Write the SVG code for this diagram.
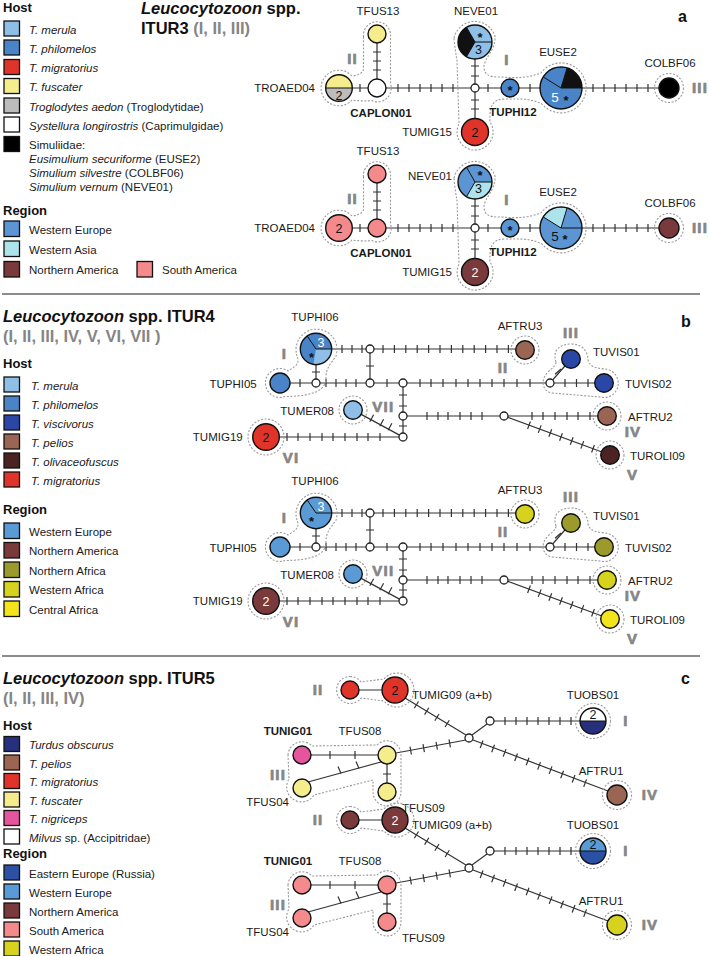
<svg xmlns="http://www.w3.org/2000/svg" width="709" height="956" viewBox="0 0 709 956">
<style>
text{font-family:"Liberation Sans",Arial,Helvetica,sans-serif}
.lg{font-size:11.5px;fill:#1a1a1a}
.hd{font-size:13px;font-weight:bold;fill:#111}
.ti{font-size:16.5px;font-weight:bold;fill:#111}
.gr{fill:#858585}
.nl{font-size:11.5px;fill:#1a1a1a}
.nb{font-size:11.5px;font-weight:bold;fill:#1a1a1a}
.rn{font-size:15px;font-weight:bold;fill:#858585;stroke:#858585;stroke-width:0.7;letter-spacing:1.2px;text-anchor:middle}
.pl{font-size:16px;font-weight:bold;fill:#111}
.it{font-style:italic}
.in{font-size:12.5px;fill:#111;text-anchor:middle}
.iw{font-size:12.5px;fill:#fff;text-anchor:middle}
.st{font-size:13px;font-weight:bold;fill:#111;text-anchor:middle}
.sq{stroke:#111;stroke-width:1.3}
.ln{stroke:#333;stroke-width:1.2;fill:none}
.nd{stroke:#111;stroke-width:1.4}
.jn{fill:#fff;stroke:#222;stroke-width:1.3}
.hl{fill:none;stroke:#9a9a9a;stroke-width:1.1;stroke-dasharray:2 1.6}
.sp{stroke:#111;stroke-width:1;fill:none}
.sep{stroke:#8c8c8c;stroke-width:2}
.mid{text-anchor:middle}
.end{text-anchor:end}
</style>
<rect width="709" height="956" fill="#fff"/>

<!-- ===================== PANEL A ===================== -->
<g id="title-a">
<text x="141" y="14" class="ti"><tspan class="it">Leucocytozoon</tspan> spp.</text>
<text x="141" y="33.5" class="ti">ITUR3 <tspan class="gr">(I, II, III)</tspan></text>
<text x="678" y="22" class="pl">a</text>
</g>
<g id="legend-a">
<text x="3" y="12" class="hd">Host</text>
<rect x="4" y="21" width="15.5" height="15" class="sq" fill="#8fbfe6"/><text x="29" y="33.5" class="lg it">T. merula</text>
<rect x="4" y="40" width="15.5" height="15" class="sq" fill="#4a84c8"/><text x="29" y="52.5" class="lg it">T. philomelos</text>
<rect x="4" y="59.5" width="15.5" height="15" class="sq" fill="#e0342a"/><text x="29" y="72" class="lg it">T. migratorius</text>
<rect x="4" y="78.5" width="15.5" height="15" class="sq" fill="#f5ec8c"/><text x="29" y="91" class="lg it">T. fuscater</text>
<rect x="4" y="98" width="15.5" height="15" class="sq" fill="#bcbcbc"/><text x="29" y="110.5" class="lg"><tspan class="it">Troglodytes aedon</tspan> (Troglodytidae)</text>
<rect x="4" y="117" width="15.5" height="15" class="sq" fill="#fff"/><text x="29" y="129.5" class="lg"><tspan class="it">Systellura longirostris</tspan> (Caprimulgidae)</text>
<rect x="4" y="136.5" width="15.5" height="15" class="sq" fill="#000"/><text x="29" y="149" class="lg">Simuliidae:</text>
<text x="29" y="163" class="lg"><tspan class="it">Eusimulium securiforme</tspan> (EUSE2)</text>
<text x="29" y="177" class="lg"><tspan class="it">Simulium silvestre</tspan> (COLBF06)</text>
<text x="29" y="191" class="lg"><tspan class="it">Simulium vernum</tspan> (NEVE01)</text>
<text x="3" y="214.5" class="hd">Region</text>
<rect x="4" y="221" width="15.5" height="15.5" class="sq" fill="#5b95d3"/><text x="29" y="233.5" class="lg">Western Europe</text>
<rect x="4" y="241" width="15.5" height="15.5" class="sq" fill="#ade3ea"/><text x="29" y="253.5" class="lg">Western Asia</text>
<rect x="4" y="261.5" width="15.5" height="15.5" class="sq" fill="#7a3a3c"/><text x="29" y="274" class="lg">Northern America</text>
<rect x="137" y="261.5" width="15.5" height="15.5" class="sq" fill="#f58a8c"/><text x="162" y="274" class="lg">South America</text>
</g>

<g id="a-conn">
<path class="ln" d="M352 88H368M386 88H471M479 88H501M519 88H540M582 88H659M377 43V79M475 59V84M475 92V118.5"/>
<path class="ln" d="M360 84v8M398 84v8M409 84v8M420 84v8M431 84v8M442 84v8M453 84v8M488 84v8M530 84v8M593 84v8M604 84v8M615 84v8M626 84v8M637 84v8M648 84v8M373 52h8M373 61h8M373 70h8M471 66h8M471 76h8M471 100h8M471 109h8"/>
</g>
<g id="a-hulls">
<path class="hl" d="M363.5 37A13.6 13.6 0 1 1 390.5 37L390.5 84A13.5 13.5 0 0 1 372 100.6Q362 101.5 352 100A17.8 17.8 0 1 1 352 76Q361 75 363.5 70Z"/>
<path class="hl" d="M454 38A21.3 21.3 0 0 1 495 36C496 50 484 58 484 67C484 75 490 77 498 77C510 77 522 80 541 73A25 25 0 1 1 542 104C530 98 520 99 505 99C494 99 489 104 490 122A18 18 0 1 1 459 124L457 60Q455 50 454 38Z"/>
<circle class="hl" cx="669" cy="88" r="14.5"/>
</g>
<g id="a-host">
<g id="a1-TFUS13"><circle class="nd" cx="377" cy="34" r="9" fill="#f5ec8c"/><text x="378" y="15" class="nl mid">TFUS13</text></g>
<g id="a1-CAPLON01"><circle class="nd" cx="377" cy="88" r="9" fill="#fff"/><text x="381" y="117" class="nb mid">CAPLON01</text></g>
<g id="a1-TROAED04"><path d="M325.7 88A13.3 13.3 0 0 1 352.3 88Z" fill="#f5ec8c"/><path d="M325.7 88A13.3 13.3 0 0 0 352.3 88Z" fill="#bcbcbc"/><path class="sp" d="M325.7 88H352.3"/><circle class="nd" cx="339" cy="88" r="13.3" fill="none"/><text x="339" y="99.5" class="in">2</text><text x="315" y="92" class="nl end">TROAED04</text></g>
<g id="a1-NEVE01"><circle cx="475" cy="42" r="17" fill="#8fbfe6"/><path d="M475 42L466.5 27.28A17 17 0 0 0 466.5 56.72Z" fill="#111"/><path class="sp" d="M492 42H475L466.5 27.28M475 42L466.5 56.72"/><circle class="nd" cx="475" cy="42" r="17" fill="none"/><text x="480" y="41.5" class="st">*</text><text x="478.5" y="54" class="in" fill="#234">3</text><text x="476" y="15" class="nl mid">NEVE01</text></g>
<g id="a1-junction"><circle class="jn" cx="475" cy="88" r="4"/></g>
<g id="a1-TUMIG15"><circle class="nd" cx="475" cy="132" r="13.5" fill="#e0342a"/><text x="475" y="136.5" class="in">2</text><text x="452" y="136" class="nl end">TUMIG15</text></g>
<g id="a1-TUPHI12"><circle class="nd" cx="510" cy="88" r="9" fill="#4a84c8"/><text x="510" y="95" class="st">*</text><text x="513" y="116" class="nb mid">TUPHI12</text></g>
<g id="a1-EUSE2"><circle cx="561" cy="88" r="21" fill="#4a84c8"/><path d="M561 88L582 88A21 21 0 0 0 567.1 67.9Z" fill="#111"/><path class="sp" d="M582 88H561L543.2 76.9M561 88L567.1 67.9"/><circle class="nd" cx="561" cy="88" r="21" fill="none"/><text x="555" y="102" class="iw" style="font-size:13.5px">5</text><text x="566" y="104.5" class="st">*</text><text x="558" y="56" class="nl mid">EUSE2</text></g>
<g id="a1-COLBF06"><circle class="nd" cx="669" cy="88" r="10" fill="#000"/><text x="670" y="67" class="nl mid">COLBF06</text></g>
<text x="352.5" y="63.5" class="rn">II</text>
<text x="507" y="65" class="rn">I</text>
<text x="700" y="93" class="rn">III</text>
</g>

<g id="a-region" transform="translate(0,140)">
<use href="#a-conn"/>
<use href="#a-hulls"/>
<g id="a2-TFUS13"><circle class="nd" cx="377" cy="34" r="9" fill="#f58a8c"/><text x="378" y="15" class="nl mid">TFUS13</text></g>
<g id="a2-CAPLON01"><circle class="nd" cx="377" cy="88" r="9" fill="#f58a8c"/><text x="381" y="117" class="nb mid">CAPLON01</text></g>
<g id="a2-TROAED04"><circle class="nd" cx="339" cy="88" r="13.3" fill="#f58a8c"/><text x="339" y="92.5" class="in">2</text><text x="315" y="92" class="nl end">TROAED04</text></g>
<g id="a2-NEVE01"><circle cx="475" cy="42" r="17" fill="#5b95d3"/><path d="M475 42L466.5 56.72A17 17 0 0 0 492 42Z" fill="#ade3ea"/><path class="sp" d="M492 42H475L466.5 27.28M475 42L466.5 56.72"/><circle class="nd" cx="475" cy="42" r="17" fill="none"/><text x="480" y="40" class="st">*</text><text x="478.5" y="52.5" class="in">3</text><text x="452" y="39.5" class="nl end">NEVE01</text></g>
<g id="a2-junction"><circle class="jn" cx="475" cy="88" r="4"/></g>
<g id="a2-TUMIG15"><circle class="nd" cx="475" cy="132" r="13.5" fill="#7a3a3c"/><text x="475" y="136.5" class="iw">2</text><text x="452" y="136" class="nl end">TUMIG15</text></g>
<g id="a2-TUPHI12"><circle class="nd" cx="510" cy="88" r="9" fill="#5b95d3"/><text x="510" y="95" class="st">*</text><text x="513" y="116" class="nb mid">TUPHI12</text></g>
<g id="a2-EUSE2"><circle cx="561" cy="88" r="21" fill="#5b95d3"/><path d="M561 88L567.1 67.9A21 21 0 0 0 543.2 76.9Z" fill="#ade3ea"/><path class="sp" d="M582 88H561L543.2 76.9M561 88L567.1 67.9"/><circle class="nd" cx="561" cy="88" r="21" fill="none"/><text x="555" y="101" class="in" style="font-size:13.5px">5</text><text x="565" y="103.5" class="st">*</text><text x="558" y="56" class="nl mid">EUSE2</text></g>
<g id="a2-COLBF06"><circle class="nd" cx="669" cy="88" r="10" fill="#7a3a3c"/><text x="670" y="67" class="nl mid">COLBF06</text></g>
<text x="352.5" y="63.5" class="rn">II</text>
<text x="507" y="65" class="rn">I</text>
<text x="700" y="93" class="rn">III</text>
</g>

<line class="sep" x1="2" y1="294" x2="700" y2="294"/>

<!-- ===================== PANEL B ===================== -->
<g id="title-b">
<text x="3" y="321.7" class="ti"><tspan class="it">Leucocytozoon</tspan> spp. ITUR4</text>
<text x="3" y="342" class="ti gr">(I, II, III, IV, V, VI, VII )</text>
<text x="681" y="327" class="pl">b</text>
</g>
<g id="legend-b">
<text x="3" y="368" class="hd">Host</text>
<rect x="4" y="377" width="15.5" height="15" class="sq" fill="#8fbfe6"/><text x="31" y="389.5" class="lg it">T. merula</text>
<rect x="4" y="396" width="15.5" height="15" class="sq" fill="#4a84c8"/><text x="31" y="408.5" class="lg it">T. philomelos</text>
<rect x="4" y="415" width="15.5" height="15" class="sq" fill="#2b47a6"/><text x="31" y="427.5" class="lg it">T. viscivorus</text>
<rect x="4" y="434" width="15.5" height="15" class="sq" fill="#9a6552"/><text x="31" y="446.5" class="lg it">T. pelios</text>
<rect x="4" y="453" width="15.5" height="15" class="sq" fill="#4b2323"/><text x="31" y="465.5" class="lg it">T. olivaceofuscus</text>
<rect x="4" y="472" width="15.5" height="15" class="sq" fill="#e0342a"/><text x="31" y="484.5" class="lg it">T. migratorius</text>
<text x="3" y="514" class="hd">Region</text>
<rect x="4" y="523" width="15.5" height="15.5" class="sq" fill="#5b9bd5"/><text x="29" y="535.5" class="lg">Western Europe</text>
<rect x="4" y="542.5" width="15.5" height="15.5" class="sq" fill="#7a3a3c"/><text x="29" y="555" class="lg">Northern America</text>
<rect x="4" y="562" width="15.5" height="15.5" class="sq" fill="#9c9a2a"/><text x="29" y="574.5" class="lg">Northern Africa</text>
<rect x="4" y="581.5" width="15.5" height="15.5" class="sq" fill="#d6d21e"/><text x="29" y="594" class="lg">Western Africa</text>
<rect x="4" y="601" width="15.5" height="15.5" class="sq" fill="#f3e41c"/><text x="29" y="613.5" class="lg">Central Africa</text>
</g>

<g id="b-conn">
<path class="ln" d="M331.7 349H366M374 349H515.7M370 353V379M316 364.7V379M290 383H312M320 383H366M374 383H399M407 383H546M554 383H594.7M552.6 380L564.9 366M403 387V412M403 420V433M407 416H500M508 416H597.4M507.8 417.4L601.3 451.8M361.2 414.4L399.5 435.1M279.3 437H399"/>
<path class="ln" d="M342 345v8M352 345v8M362 345v8M383 345v8M394.4 345v8M405.8 345v8M417.2 345v8M428.6 345v8M440 345v8M451.4 345v8M462.8 345v8M474.2 345v8M485.6 345v8M497 345v8M508.4 345v8M300 379v8M326 379v8M336 379v8M346 379v8M356 379v8M387 379v8M420 379v8M431 379v8M443 379v8M456 379v8M468 379v8M480 379v8M492 379v8M504 379v8M517 379v8M530 379v8M565 379v8M576.5 379v8M588 379v8M427 412v8M438 412v8M448 412v8M460 412v8M471 412v8M482 412v8M532 412v8M543 412v8M555 412v8M567 412v8M578 412v8M590 412v8M287 433v8M298 433v8M310 433v8M322 433v8M333 433v8M345 433v8M357 433v8M368 433v8M380 433v8M366 366h8M312 372h8M399 395h8M399 406h8M399 426h8M561 369l-6 5.3M530.4 421.5l-2.8 7.5M541.1 425.4l-2.8 7.5M551.7 429.3l-2.8 7.5M562.4 433.3l-2.8 7.5M573.1 437.2l-2.8 7.5M583.7 441.1l-2.8 7.5M594.4 445l-2.8 7.5M373.6 414.8l-3.8 7M383.6 419.2l-3.8 7M391.9 423.2l-3.8 7"/>
</g>
<g id="b-hulls">
<path class="hl" d="M297 356A20.5 20.5 0 1 1 336 356C330 365 326 368 326 378C326 392 310 396 285 396.6A14.5 14.5 0 1 1 288 371C296 366 300 364 297 356Z"/>
<path class="hl" d="M556 362C552 350 560 344 571 344C583 344 588 352 588 360C590 368 598 368 605 369A14.3 14.3 0 1 1 600 397L552 393C542 391 540 380 548 372C552 368 556 366 556 362Z"/>
<circle class="hl" cx="525" cy="350" r="14"/>
<circle class="hl" cx="353" cy="410" r="14"/>
<circle class="hl" cx="607" cy="416" r="14"/>
<circle class="hl" cx="610" cy="455" r="14"/>
<circle class="hl" cx="266" cy="437" r="18"/>
</g>
<g id="b-host">
<g id="b1-TUPHI06"><circle cx="316" cy="349" r="15.7" fill="#4a84c8"/><path d="M316 349L313.3 364.5A15.7 15.7 0 0 0 331.7 349Z" fill="#8fbfe6"/><path class="sp" d="M331.7 349H316L307.2 336"/><circle class="nd" cx="316" cy="349" r="15.7" fill="none"/><text x="321" y="346.5" class="iw">3</text><text x="311.5" y="362" class="st">*</text><text x="315" y="321" class="nl mid">TUPHI06</text></g>
<g id="b1-TUPHI05"><circle class="nd" cx="280" cy="383" r="10" fill="#4a84c8"/><text x="256.7" y="387.5" class="nl end">TUPHI05</text></g>
<g id="b1-junctions"><circle class="jn" cx="370" cy="349" r="4"/><circle class="jn" cx="316" cy="383" r="4"/><circle class="jn" cx="370" cy="383" r="4"/><circle class="jn" cx="403" cy="383" r="4"/><circle class="jn" cx="550" cy="383" r="4"/><circle class="jn" cx="403" cy="416" r="4"/><circle class="jn" cx="504" cy="416" r="4"/><circle class="jn" cx="403" cy="437" r="4"/></g>
<g id="b1-AFTRU3"><circle class="nd" cx="525" cy="350" r="9.3" fill="#9a6552"/><text x="520" y="330" class="nl mid">AFTRU3</text></g>
<g id="b1-TUVIS01"><circle class="nd" cx="571" cy="359" r="9.3" fill="#2b47a6"/><text x="593" y="356" class="nl">TUVIS01</text></g>
<g id="b1-TUVIS02"><circle class="nd" cx="604" cy="383" r="9.3" fill="#2b47a6"/><text x="625" y="387.5" class="nl">TUVIS02</text></g>
<g id="b1-AFTRU2"><circle class="nd" cx="607" cy="416" r="9.3" fill="#9a6552"/><text x="628" y="420.5" class="nl">AFTRU2</text></g>
<g id="b1-TUROLI09"><circle class="nd" cx="610" cy="455" r="9.3" fill="#4b2323"/><text x="630" y="460" class="nl">TUROLI09</text></g>
<g id="b1-TUMER08"><circle class="nd" cx="353" cy="410" r="9.3" fill="#8fbfe6"/><text x="334" y="414.5" class="nl end">TUMER08</text></g>
<g id="b1-TUMIG19"><circle class="nd" cx="266" cy="437" r="13.3" fill="#e0342a"/><text x="266" y="441.5" class="in">2</text><text x="242.7" y="441" class="nl end">TUMIG19</text></g>
<text x="284.5" y="358.5" class="rn">I</text>
<text x="503" y="373.3" class="rn">II</text>
<text x="571" y="338.3" class="rn">III</text>
<text x="633" y="436.7" class="rn">IV</text>
<text x="632.5" y="480" class="rn">V</text>
<text x="291" y="463.3" class="rn">VI</text>
<text x="383.3" y="411.7" class="rn">VII</text>
</g>

<g id="b-region" transform="translate(0,164)">
<use href="#b-conn"/>
<use href="#b-hulls"/>
<g id="b2-TUPHI06"><circle cx="316" cy="349" r="15.7" fill="#5b9bd5"/><path class="sp" d="M331.7 349H316L307.2 336"/><circle class="nd" cx="316" cy="349" r="15.7" fill="none"/><text x="321" y="346.5" class="iw">3</text><text x="311.5" y="362" class="st">*</text><text x="315" y="321" class="nl mid">TUPHI06</text></g>
<g id="b2-TUPHI05"><circle class="nd" cx="280" cy="383" r="10" fill="#5b9bd5"/><text x="256.7" y="387.5" class="nl end">TUPHI05</text></g>
<g id="b2-junctions"><circle class="jn" cx="370" cy="349" r="4"/><circle class="jn" cx="316" cy="383" r="4"/><circle class="jn" cx="370" cy="383" r="4"/><circle class="jn" cx="403" cy="383" r="4"/><circle class="jn" cx="550" cy="383" r="4"/><circle class="jn" cx="403" cy="416" r="4"/><circle class="jn" cx="504" cy="416" r="4"/><circle class="jn" cx="403" cy="437" r="4"/></g>
<g id="b2-AFTRU3"><circle class="nd" cx="525" cy="350" r="9.3" fill="#d6d21e"/><text x="520" y="330" class="nl mid">AFTRU3</text></g>
<g id="b2-TUVIS01"><circle class="nd" cx="571" cy="359" r="9.3" fill="#9c9a2a"/><text x="593" y="356" class="nl">TUVIS01</text></g>
<g id="b2-TUVIS02"><circle class="nd" cx="604" cy="383" r="9.3" fill="#9c9a2a"/><text x="625" y="387.5" class="nl">TUVIS02</text></g>
<g id="b2-AFTRU2"><circle class="nd" cx="607" cy="416" r="9.3" fill="#d6d21e"/><text x="628" y="420.5" class="nl">AFTRU2</text></g>
<g id="b2-TUROLI09"><circle class="nd" cx="610" cy="455" r="9.3" fill="#f3e41c"/><text x="630" y="460" class="nl">TUROLI09</text></g>
<g id="b2-TUMER08"><circle class="nd" cx="353" cy="410" r="9.3" fill="#5b9bd5"/><text x="334" y="414.5" class="nl end">TUMER08</text></g>
<g id="b2-TUMIG19"><circle class="nd" cx="266" cy="437" r="13.3" fill="#7a3a3c"/><text x="266" y="441.5" class="iw">2</text><text x="242.7" y="441" class="nl end">TUMIG19</text></g>
<text x="284.5" y="358.5" class="rn">I</text>
<text x="503" y="373.3" class="rn">II</text>
<text x="571" y="338.3" class="rn">III</text>
<text x="633" y="436.7" class="rn">IV</text>
<text x="632.5" y="480" class="rn">V</text>
<text x="291" y="463.3" class="rn">VI</text>
<text x="383.3" y="411.7" class="rn">VII</text>
</g>

<line class="sep" x1="2" y1="656" x2="700" y2="656"/>

<!-- ===================== PANEL C ===================== -->
<g id="title-c">
<text x="3" y="684" class="ti"><tspan class="it">Leucocytozoon</tspan> spp. ITUR5</text>
<text x="3" y="704" class="ti gr">(I, II, III, IV)</text>
<text x="681" y="684" class="pl">c</text>
</g>
<g id="legend-c">
<text x="3" y="730" class="hd">Host</text>
<rect x="4" y="736.5" width="15.5" height="15" class="sq" fill="#27307c"/><text x="29" y="749" class="lg it">Turdus obscurus</text>
<rect x="4" y="755" width="15.5" height="15" class="sq" fill="#9a6552"/><text x="29" y="767.5" class="lg it">T. pelios</text>
<rect x="4" y="773.5" width="15.5" height="15" class="sq" fill="#e0342a"/><text x="29" y="786" class="lg it">T. migratorius</text>
<rect x="4" y="792" width="15.5" height="15" class="sq" fill="#f5ec8c"/><text x="29" y="804.5" class="lg it">T. fuscater</text>
<rect x="4" y="810.5" width="15.5" height="15" class="sq" fill="#e4559e"/><text x="29" y="823" class="lg it">T. nigriceps</text>
<rect x="4" y="829" width="15.5" height="15" class="sq" fill="#fff"/><text x="29" y="841.5" class="lg"><tspan class="it">Milvus</tspan> sp. (Accipitridae)</text>
<text x="3" y="858" class="hd">Region</text>
<rect x="4" y="865" width="15.5" height="15" class="sq" fill="#2c50a4"/><text x="29" y="877.5" class="lg">Eastern Europe (Russia)</text>
<rect x="4" y="884" width="15.5" height="15" class="sq" fill="#5b9bd5"/><text x="29" y="896.5" class="lg">Western Europe</text>
<rect x="4" y="903" width="15.5" height="15" class="sq" fill="#7a3a3c"/><text x="29" y="915.5" class="lg">Northern America</text>
<rect x="4" y="922" width="15.5" height="15" class="sq" fill="#f58a8c"/><text x="29" y="934.5" class="lg">South America</text>
<rect x="4" y="941" width="15.5" height="15" class="sq" fill="#d6d21e"/><text x="29" y="953.5" class="lg">Western Africa</text>
</g>

<g id="c-conn">
<path class="ln" d="M359 690H382M494 721H580M405 698L466 735M472 735L487 724M473 740L608 791M311 755H378M396 753L466 740M381 762L308 782M387 764V783"/>
<path class="ln" d="M505 717v8M516 717v8M527 717v8M538 717v8M549 717v8M560 717v8M571 717v8M418.5 701.5l-4.2 6.8M428.8 707.8l-4.2 6.8M439 714l-4.2 6.8M449.3 720.2l-4.2 6.8M483 740.5l-2.8 7.5M494.5 744.8l-2.8 7.5M506 749.1l-2.8 7.5M517.5 753.5l-2.8 7.5M529 757.8l-2.8 7.5M540.5 762.1l-2.8 7.5M552 766.4l-2.8 7.5M563.5 770.7l-2.8 7.5M575 775l-2.8 7.5M586.5 779.4l-2.8 7.5M330 751v8M355 751v8M410 746.6l1.4 7.9M423 744.2l1.4 7.9M436 741.8l1.4 7.9M449 739.4l1.4 7.9M338 766.5l3 7M356 761.5l3 7M383 774h8"/>
</g>
<g id="c-hulls">
<path class="hl" d="M350 676.5A13.5 13.5 0 0 1 361 682L384 679A17 17 0 1 1 384 701L361 698A13.5 13.5 0 1 1 350 676.5Z"/>
<circle class="hl" cx="593" cy="721" r="17.5"/>
<circle class="hl" cx="617" cy="795" r="14.5"/>
<path class="hl" d="M288 755A14 14 0 0 1 312 746L377 745A14 14 0 0 1 401 755L401 792A14 14 0 0 1 373 792L373 780L314 795A14 14 0 1 1 289 779Z"/>
</g>
<g id="c-host">
<g id="c1-TUMIG-a"><circle class="nd" cx="350" cy="690" r="9" fill="#e0342a"/></g>
<g id="c1-TUMIG09"><circle class="nd" cx="395" cy="690" r="13" fill="#e0342a"/><text x="395" y="694.5" class="in">2</text><text x="412" y="699" class="nl">TUMIG09 (a+b)</text></g>
<g id="c1-junctions"><circle class="jn" cx="490" cy="721" r="4"/><circle class="jn" cx="469" cy="738" r="4"/></g>
<g id="c1-TUOBS01"><path d="M580 721A13 13 0 0 1 606 721Z" fill="#fff"/><path d="M580 721A13 13 0 0 0 606 721Z" fill="#27307c"/><path class="sp" d="M580 721H606"/><circle class="nd" cx="593" cy="721" r="13" fill="none"/><text x="593" y="719" class="in">2</text><text x="593" y="699" class="nl mid">TUOBS01</text></g>
<g id="c1-AFTRU1"><circle class="nd" cx="617" cy="795" r="10" fill="#9a6552"/><text x="601" y="775" class="nl mid">AFTRU1</text></g>
<g id="c1-TUNIG01"><circle class="nd" cx="302" cy="755" r="9" fill="#e4559e"/><text x="288" y="735" class="nb mid">TUNIG01</text></g>
<g id="c1-TFUS08"><circle class="nd" cx="387" cy="755" r="9" fill="#f5ec8c"/><text x="360" y="735" class="nl mid">TFUS08</text></g>
<g id="c1-TFUS04"><circle class="nd" cx="302" cy="788" r="9" fill="#f5ec8c"/><text x="289" y="806" class="nl end">TFUS04</text></g>
<g id="c1-TFUS09"><circle class="nd" cx="387" cy="792" r="9" fill="#f5ec8c"/><text x="402" y="812" class="nl">TFUS09</text></g>
<text x="318" y="695" class="rn">II</text>
<text x="626" y="726" class="rn">I</text>
<text x="278" y="780" class="rn">III</text>
<text x="650" y="800" class="rn">IV</text>
</g>
<g id="c-region" transform="translate(0,130)">
<use href="#c-conn"/>
<use href="#c-hulls"/>
<g id="c2-TUMIG-a"><circle class="nd" cx="350" cy="690" r="9" fill="#7a3a3c"/></g>
<g id="c2-TUMIG09"><circle class="nd" cx="395" cy="690" r="13" fill="#7a3a3c"/><text x="395" y="694.5" class="iw">2</text><text x="412" y="699" class="nl">TUMIG09 (a+b)</text></g>
<g id="c2-junctions"><circle class="jn" cx="490" cy="721" r="4"/><circle class="jn" cx="469" cy="738" r="4"/></g>
<g id="c2-TUOBS01"><path d="M580 721A13 13 0 0 1 606 721Z" fill="#5b9bd5"/><path d="M580 721A13 13 0 0 0 606 721Z" fill="#2c50a4"/><path class="sp" d="M580 721H606"/><circle class="nd" cx="593" cy="721" r="13" fill="none"/><text x="593" y="719" class="in">2</text><text x="593" y="699" class="nl mid">TUOBS01</text></g>
<g id="c2-AFTRU1"><circle class="nd" cx="617" cy="795" r="10" fill="#d6d21e"/><text x="601" y="775" class="nl mid">AFTRU1</text></g>
<g id="c2-TUNIG01"><circle class="nd" cx="302" cy="755" r="9" fill="#f58a8c"/><text x="288" y="735" class="nb mid">TUNIG01</text></g>
<g id="c2-TFUS08"><circle class="nd" cx="387" cy="755" r="9" fill="#f58a8c"/><text x="360" y="735" class="nl mid">TFUS08</text></g>
<g id="c2-TFUS04"><circle class="nd" cx="302" cy="788" r="9" fill="#f58a8c"/><text x="289" y="806" class="nl end">TFUS04</text></g>
<g id="c2-TFUS09"><circle class="nd" cx="387" cy="792" r="9" fill="#f58a8c"/><text x="402" y="812" class="nl">TFUS09</text></g>
<text x="318" y="695" class="rn">II</text>
<text x="626" y="726" class="rn">I</text>
<text x="278" y="780" class="rn">III</text>
<text x="650" y="800" class="rn">IV</text>
</g>
</svg>
